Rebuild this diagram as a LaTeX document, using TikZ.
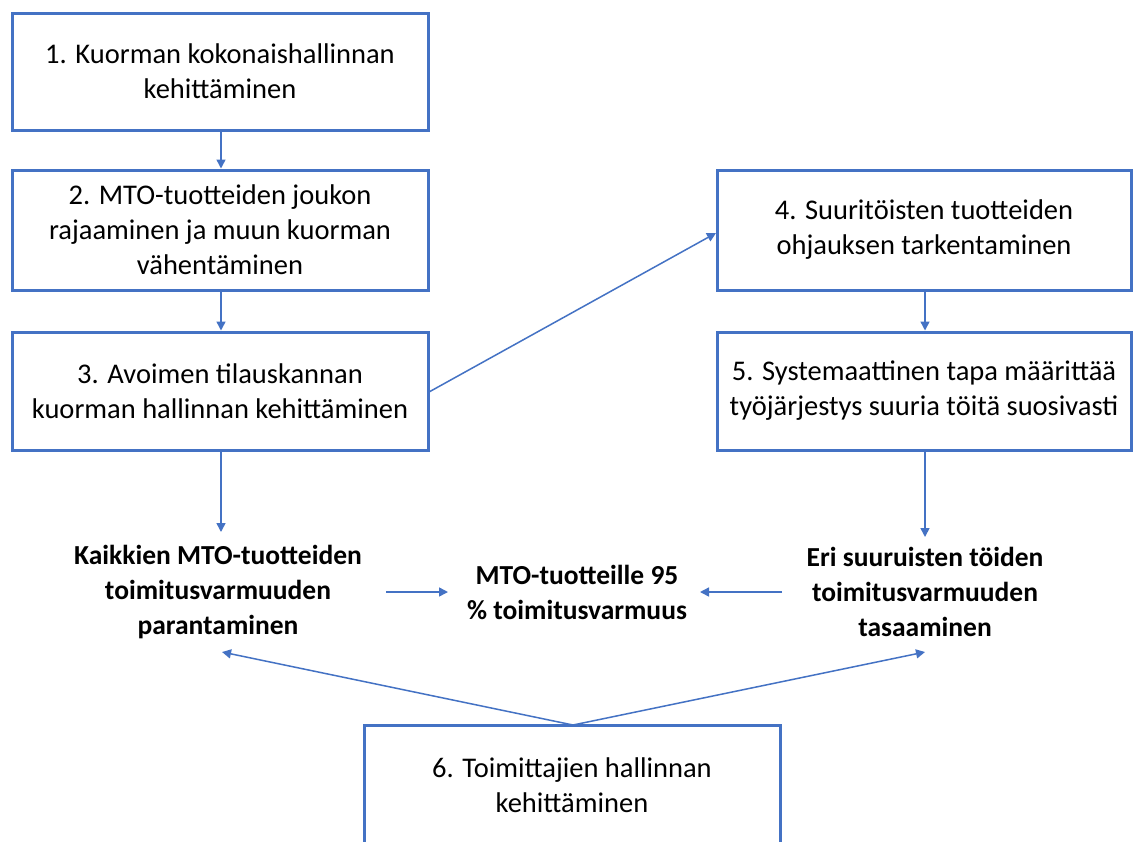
\documentclass[tikz,border=0pt]{standalone}
\usepackage{fontspec}
\setmainfont{Carlito}
\usetikzlibrary{arrows.meta}
\definecolor{boxblue}{HTML}{4472C4}
\tikzset{
  stepbox/.style={draw=boxblue, line width=3pt, align=center, inner sep=0pt,
    minimum width=416pt, minimum height=117pt, font=\fontsize{28.5}{35}\selectfont},
  goal/.style={align=center, inner sep=0pt, font=\bfseries\fontsize{27.5}{35}\selectfont},
  conn/.style={draw=boxblue, line width=1.5pt, -{Triangle[length=9pt,width=9pt]}},
}
\begin{document}
\begin{tikzpicture}[x=1pt,y=-1pt]
\useasboundingbox (0,0) rectangle (1134,841);
\fill[white] (0,0) rectangle (1134,841);
\node[stepbox] (b1) at (220,71.5) {1. Kuorman kokonaishallinnan\\kehittäminen};
\node[stepbox, minimum height=120pt] (b2) at (220,230) {2. MTO-tuotteiden joukon\\rajaaminen ja muun kuorman\\vähentäminen};
\node[stepbox, minimum height=118pt] (b3) at (220,391) {3. Avoimen tilauskannan\\kuorman hallinnan kehittäminen};
\node[stepbox, minimum height=120pt, minimum width=414pt] (b4) at (924,230) {4. Suuritöisten tuotteiden\\ohjauksen tarkentaminen};
\node[stepbox, minimum height=118pt, minimum width=414pt] (b5) at (924,391) {5. Systemaattinen tapa määrittää\\työjärjestys suuria töitä suosivasti};
\node[stepbox, minimum height=120pt] (b6) at (572,785) {6. Toimittajien hallinnan\\kehittäminen};
\node[goal] (g1) at (218,592) {Kaikkien MTO-tuotteiden\\toimitusvarmuuden\\parantaminen};
\node[goal] (g2) at (577,592) {MTO-tuotteille 95\\\% toimitusvarmuus};
\node[goal] (g3) at (925,592) {Eri suuruisten töiden\\toimitusvarmuuden\\tasaaminen};
\coordinate (b3r) at (429,392);
\coordinate (b4l) at (716,233);
\coordinate (b6t) at (573,725);
\coordinate (g1e) at (386,592);
\coordinate (g2w) at (448,592);
\coordinate (g3w) at (782,592);
\coordinate (g2e) at (700,592);
\coordinate (g1s) at (222,652);
\coordinate (g3s) at (925,652);
\draw[conn] (b1.south -| 221,0) -- (b2.north -| 221,0);
\draw[conn] (b2.south -| 221,0) -- (b3.north -| 221,0);
\draw[conn] (b3r) -- (b4l);
\draw[conn] (b4.south -| 925,0) -- (b5.north -| 925,0);
\draw[conn] (b3.south -| 221,0) -- (221,532);
\draw[conn] (b5.south -| 925,0) -- (925,537);
\draw[conn] (g1e) -- (g2w);
\draw[conn] (g3w) -- (g2e);
\draw[conn] (b6t) -- (g1s);
\draw[conn] (b6t) -- (g3s);
\end{tikzpicture}
\end{document}
